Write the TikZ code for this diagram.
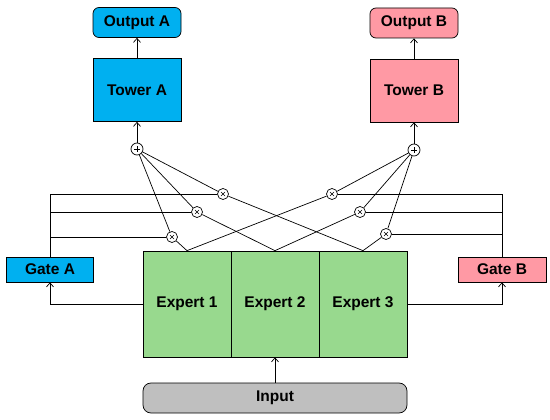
\documentclass[tikz,border=0pt]{standalone}
\usepackage{fontspec}
\setmainfont{Liberation Sans}
\usetikzlibrary{arrows.meta}

\definecolor{towblue}{RGB}{0,176,240}
\definecolor{towpink}{RGB}{255,153,164}
\definecolor{expgreen}{RGB}{152,217,142}
\definecolor{inpgray}{RGB}{191,191,191}

\tikzset{
  block/.style={draw, minimum width=88pt, inner sep=0pt,
    font=\fontsize{15.5}{18}\selectfont\bfseries},
  plusnode/.style={circle, draw, fill=white, minimum size=12pt, inner sep=0pt,
    path picture={
      \draw[line width=0.6pt] ([xshift=-3pt]path picture bounding box.center) -- ++(6pt,0pt);
      \draw[line width=0.6pt] ([yshift=-3pt]path picture bounding box.center) -- ++(0pt,6pt);
    }},
  mulnode/.style={circle, draw, fill=white, minimum size=11pt, inner sep=0pt,
    path picture={
      \draw[line width=0.6pt] ([shift={(-2pt,-2pt)}]path picture bounding box.center) -- ++(4pt,4pt);
      \draw[line width=0.6pt] ([shift={(-2pt,2pt)}]path picture bounding box.center) -- ++(4pt,-4pt);
    }},
}

\begin{document}
\begin{tikzpicture}[x=1pt, y=-1pt, line width=0.7pt,
    >={Straight Barb[length=4pt,width=7pt]}]
  \useasboundingbox (0,0) rectangle (550,420); % keep the margins

  % towers and outputs
  \node[block, fill=towblue, rounded corners=6pt, minimum height=30pt] (outa) at (137,22.5) {Output A};
  \node[block, fill=towblue, minimum height=63pt] (towera) at (137,90) {Tower A};
  \node[block, fill=towpink, rounded corners=6pt, minimum height=30pt] (outb) at (414,23) {Output B};
  \node[block, fill=towpink, minimum height=63pt] (towerb) at (414,90.5) {Tower B};

  % gates
  \node[block, fill=towblue, minimum width=87pt, minimum height=25pt] (gatea) at (50,269.5) {Gate A};
  \node[block, fill=towpink, minimum height=25pt] (gateb) at (502,269.5) {Gate B};

  % experts and input
  \foreach \i/\x in {1/187,2/275,3/363}
    \node[block, fill=expgreen, minimum height=106pt] (e\i) at (\x,304) {Expert \i};
  \node[block, fill=inpgray, rounded corners=8pt, minimum width=264pt, minimum height=30pt] (inp) at (275,398) {Input};

  % sums and products
  \node[plusnode] (plusa) at (137,149) {};
  \node[plusnode] (plusb) at (414,150) {};
  \foreach \i/\x/\y in {1/172/237, 2/197/212, 3/223/194}
    \node[mulnode] (xa\i) at (\x,\y) {};
  \foreach \i/\x/\y in {1/332/194, 2/360/212, 3/386/234}
    \node[mulnode] (xb\i) at (\x,\y) {};

  % connectors
  \draw[->] (inp) -- (e2);
  \draw[->] (e1.west) -| (gatea.south);
  \draw[->] (e3.east) -| (gateb.south);
  \draw (gatea.north) -- (gatea.north |- xa3);
  \draw (gateb.north) -- (gateb.north |- xb1);
  \foreach \i in {1,2,3} {
    \draw (e\i.north) -- (xa\i);
    \draw (e\i.north) -- (xb\i);
    \draw (xa\i) -- (plusa);
    \draw (xb\i) -- (plusb);
    \draw (gatea.north |- xa\i) -- (xa\i);
    \draw (gateb.north |- xb\i) -- (xb\i);
  }
  \draw[->] (plusa) -- (towera);
  \draw[->] (plusb) -- (towerb);
  \draw[->] (towera) -- (outa);
  \draw[->] (towerb) -- (outb);
\end{tikzpicture}
\end{document}
